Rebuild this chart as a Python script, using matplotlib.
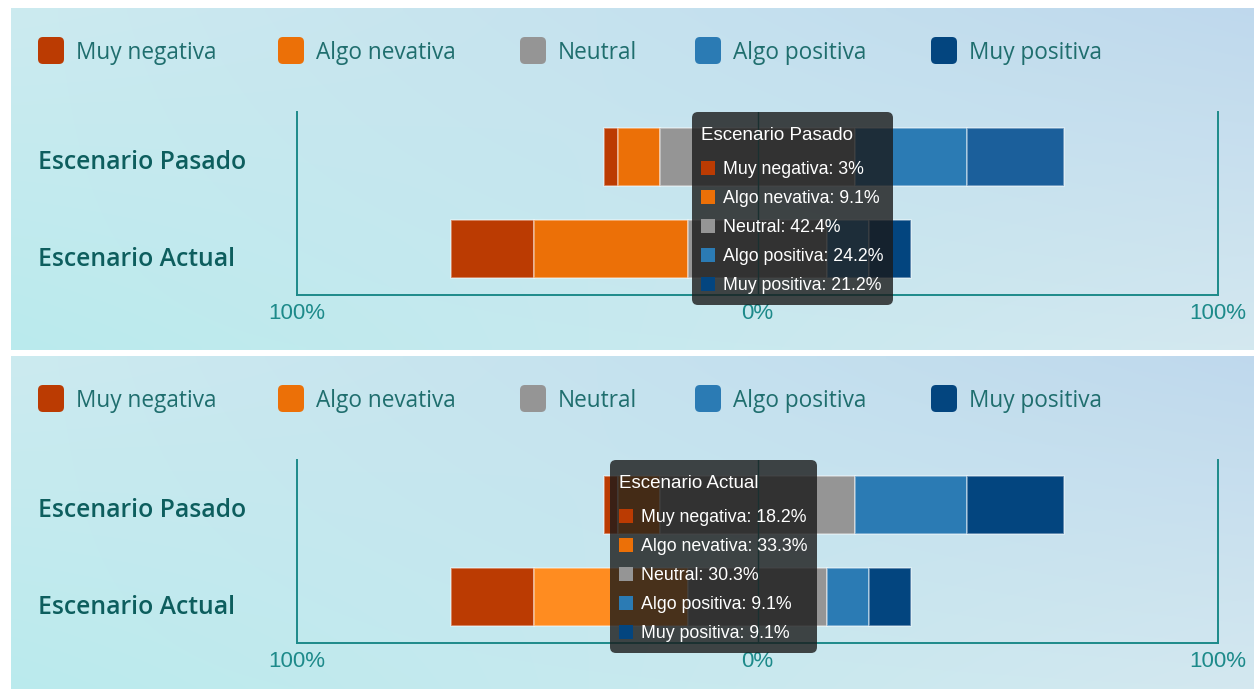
import numpy as np
import matplotlib
matplotlib.use("Agg")
import matplotlib.pyplot as plt
from matplotlib.patches import FancyBboxPatch
from matplotlib.transforms import Affine2D, blended_transform_factory

# --- data ------------------------------------------------------------------
categories = ["Escenario Pasado", "Escenario Actual"]
levels = ["Muy negativa", "Algo nevativa", "Neutral", "Algo positiva", "Muy positiva"]
pasado = [3.0, 9.1, 42.4, 24.2, 21.2]
actual = [18.2, 33.3, 30.3, 9.1, 9.1]
tick_values = [-100, 0, 100]
tick_labels = ["100%", "0%", "100%"]

colors = ["#bb3b02", "#ec7007", "#959595", "#2b7bb4", "#03457f"]
hover_colors = ["#cf4a0c", "#ff8c20", "#a8a8a8", "#3a8bc4", "#1b5f9b"]

W, H = 1254, 689
TEAL = "#1d8a8a"
LABEL = "#0d5e5e"
LEGEND_TXT = "#1f6e6e"

fig = plt.figure(figsize=(W / 100, H / 100), dpi=100, facecolor="white")
# pixel coordinates, y downwards
px = Affine2D().scale(1 / W, -1 / H).translate(0, 1) + fig.transFigure


def fig_rect(x0, y0, x1, y1):
    return [x0 / W, 1 - y1 / H, (x1 - x0) / W, (y1 - y0) / H]


def gradient_bg(rect):
    ax = fig.add_axes(fig_rect(*rect), zorder=-5)
    ny, nx = 60, 120
    u = np.linspace(0, 1, nx)[None, :, None]
    v = np.linspace(0, 1, ny)[:, None, None]  # 0 top, 1 bottom
    tl = np.array([0.80, 0.92, 0.94])
    tr = np.array([0.75, 0.85, 0.93])
    bl = np.array([0.73, 0.92, 0.93])
    br = np.array([0.83, 0.91, 0.94])
    img = (1 - u) * (1 - v) * tl + u * (1 - v) * tr + (1 - u) * v * bl + u * v * br
    ax.imshow(img, aspect="auto", interpolation="bilinear", extent=[0, 1, 1, 0])
    ax.axis("off")


def draw_panel(top, hovered_row, hovered_seg):
    # top: pixel offset of the panel
    gradient_bg((11, top, W, top + (342 if top < 20 else 337)))

    # legend
    leg_x = [38, 278, 520, 695, 931]
    for lx, lab, col in zip(leg_x, levels, colors):
        fig.patches.append(FancyBboxPatch((lx, top + 29), 26, 27,
                                          boxstyle="round,pad=0,rounding_size=5",
                                          fc=col, ec="none", transform=px))
        fig.text(lx + 38, top + 45, lab, transform=px, fontsize=16.3,
                 color=LEGEND_TXT, va="center", ha="left", family="Open Sans")

    ax = fig.add_axes(fig_rect(297, top + 104, 1218, top + 287))
    ax.patch.set_alpha(0)
    data = [pasado, actual]
    for row, vals in enumerate(data):
        left = -(vals[0] + vals[1] + vals[2] / 2)
        for k, v in enumerate(vals):
            col = hover_colors[k] if (row == hovered_row and k == hovered_seg) else colors[k]
            ax.barh(row, v, left=left, height=0.63, color=col,
                    edgecolor=(1, 1, 1, 0.45), linewidth=1.2, zorder=2)
            left += v
    ax.axvline(0, color=TEAL, lw=1, zorder=3)
    ax.set_xlim(-100, 100)
    ax.set_ylim(1.5, -0.49)
    for s in ["left", "bottom", "right"]:
        ax.spines[s].set_color(TEAL)
        ax.spines[s].set_linewidth(1.4)
    ax.spines["top"].set_visible(False)
    ax.set_xticks(tick_values, tick_labels)
    ax.set_yticks([])
    ax.tick_params(axis="x", length=0, pad=6, labelsize=16, labelcolor=TEAL)
    for t in ax.get_xticklabels():
        t.set_family("Liberation Sans")

    # category labels sit a little below the bar centres
    lab_tr = blended_transform_factory(px, ax.transData)
    for row, (cat, dy) in enumerate(zip(categories, [0.055, 0.115])):
        ax.text(38, row + dy, cat, transform=lab_tr, ha="left", va="center",
                fontsize=17.8, color=LABEL, family="Open Sans", weight="semibold",
                clip_on=False)
    return ax


def tooltip(x0, y0, w, h, row):
    vals = [pasado, actual][row]
    fig.patches.append(FancyBboxPatch((x0, y0), w, h,
                                      boxstyle="round,pad=0,rounding_size=6",
                                      fc=(0.1, 0.1, 0.1, 0.8), ec="none",
                                      transform=px, zorder=10))
    fig.text(x0 + 9, y0 + 24, categories[row], transform=px, color="white",
             fontsize=13.5, va="center", family="Liberation Sans", zorder=11)
    for i, (lab, v, col) in enumerate(zip(levels, vals, colors)):
        yy = y0 + 56 + i * 29
        fig.patches.append(FancyBboxPatch((x0 + 9, yy - 7), 14, 14,
                                          boxstyle="square,pad=0", fc=col,
                                          ec="none", transform=px, zorder=11))
        fig.text(x0 + 31, yy + 1.5, f"{lab}: {v:g}%", transform=px, color="white",
                 fontsize=12.8, va="center", family="Liberation Sans", zorder=11)


draw_panel(8, hovered_row=0, hovered_seg=4)
draw_panel(356, hovered_row=1, hovered_seg=1)
tooltip(692, 112, 201, 193, row=0)
tooltip(610, 460, 207, 193, row=1)

fig.savefig("out.png", dpi=100, facecolor="white")
